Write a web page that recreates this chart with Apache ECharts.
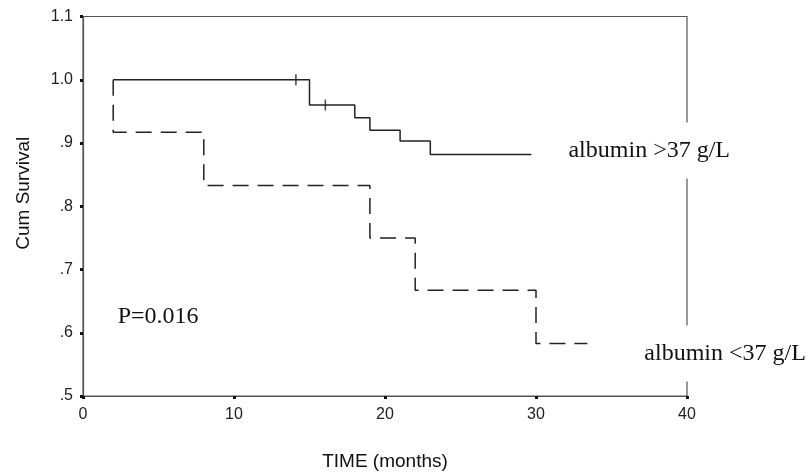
<!DOCTYPE html>
<html>
<head>
<meta charset="utf-8">
<script src="https://cdn.jsdelivr.net/npm/echarts@6/dist/echarts.min.js"></script>
<style>
html,body{margin:0;padding:0;background:#fff;}
#chart{width:811px;height:476px;}
</style>
</head>
<body>
<div id="chart"></div>
<script>
// Kaplan-Meier step points (time in months, cumulative survival)
const highTimes = [2, 15, 18, 19, 21, 23, 29.7];
const highSurv  = [1.0, 0.96, 0.94, 0.92, 0.903, 0.882, 0.882];
const highCensorTimes = [14.1, 16.05];
const highCensorSurv  = [1.0, 0.96];
const lowTimes = [2, 2, 8, 19, 22, 30, 33.4];
const lowSurv  = [1.0, 0.917, 0.833, 0.75, 0.667, 0.583, 0.583];
const xTicks = [0, 10, 20, 30, 40];
const yTickLabels = {'0.5': '.5', '0.6': '.6', '0.7': '.7', '0.8': '.8', '0.9': '.9', '1': '1.0', '1.1': '1.1'};
const seriesNames = ['albumin >37 g/L', 'albumin <37 g/L'];
const pText = 'P=0.016';

const zip = (a, b) => a.map((v, i) => [v, b[i]]);

const chart = echarts.init(document.getElementById('chart'), null, {renderer: 'canvas'});
const axisColor = '#555';
const lineColor = '#222';
const sansFont = '"Liberation Sans", Arial, sans-serif';
const serifFont = '"Liberation Serif", "Times New Roman", serif';

chart.setOption({
  animation: false,
  backgroundColor: '#fff',
  grid: {left: 83, right: 124, top: 16.5, bottom: 76, show: true, borderColor: axisColor, borderWidth: 1.2, backgroundColor: 'transparent'},
  xAxis: {
    type: 'value', min: 0, max: 40, interval: 10,
    name: 'TIME (months)', nameLocation: 'middle', nameGap: 56,
    nameTextStyle: {fontFamily: sansFont, fontSize: 19, color: '#111'},
    axisLine: {show: true, lineStyle: {color: axisColor, width: 1.2}},
    axisTick: {show: true, length: 3, lineStyle: {color: '#111', width: 3}},
    axisLabel: {fontFamily: sansFont, fontSize: 16, color: '#222', margin: 11,
      formatter: v => xTicks.includes(v) ? String(v) : ''},
    splitLine: {show: false}
  },
  yAxis: {
    type: 'value', min: 0.5, max: 1.1, interval: 0.1,
    name: 'Cum Survival', nameLocation: 'middle', nameGap: 50,
    nameTextStyle: {fontFamily: sansFont, fontSize: 19, color: '#111', padding: [0, 0, 0, 26]},
    axisLine: {show: true, lineStyle: {color: axisColor, width: 1.2}},
    axisTick: {show: true, length: 3, lineStyle: {color: '#111', width: 3}},
    axisLabel: {fontFamily: sansFont, fontSize: 16, color: '#222', margin: 10,
      formatter: v => yTickLabels[String(Math.round(v * 10) / 10)] || ''},
    splitLine: {show: false}
  },
  series: [
    {
      name: seriesNames[0], type: 'line', step: 'end',
      data: zip(highTimes, highSurv), showSymbol: false, symbol: 'none',
      lineStyle: {color: lineColor, width: 1.5}, z: 3,
      endLabel: {show: true, formatter: seriesNames[0], fontFamily: serifFont, fontSize: 24,
        color: '#111', backgroundColor: '#fff', padding: [16, 4], distance: 33, offset: [0, -4]}
    },
    {
      name: 'censored', type: 'scatter', data: zip(highCensorTimes, highCensorSurv),
      symbol: 'rect', symbolSize: [1.6, 11], itemStyle: {color: lineColor}, z: 4
    },
    {
      name: seriesNames[1], type: 'line', step: 'end',
      data: zip(lowTimes, lowSurv), showSymbol: false, symbol: 'none',
      lineStyle: {color: lineColor, width: 1.5, type: [16, 9]}, z: 3,
      endLabel: {show: true, formatter: seriesNames[1], fontFamily: serifFont, fontSize: 24,
        color: '#111', backgroundColor: '#fff', padding: [16, 4], distance: 53, offset: [0, 10]},
      markPoint: {
        symbol: 'circle', symbolSize: 0, silent: true,
        data: [{coord: [2.3, 0.626], value: pText}],
        label: {show: true, position: 'right', distance: 0, formatter: pText,
          fontFamily: serifFont, fontSize: 24, color: '#111'}
      }
    }
  ]
});
</script>
</body>
</html>
